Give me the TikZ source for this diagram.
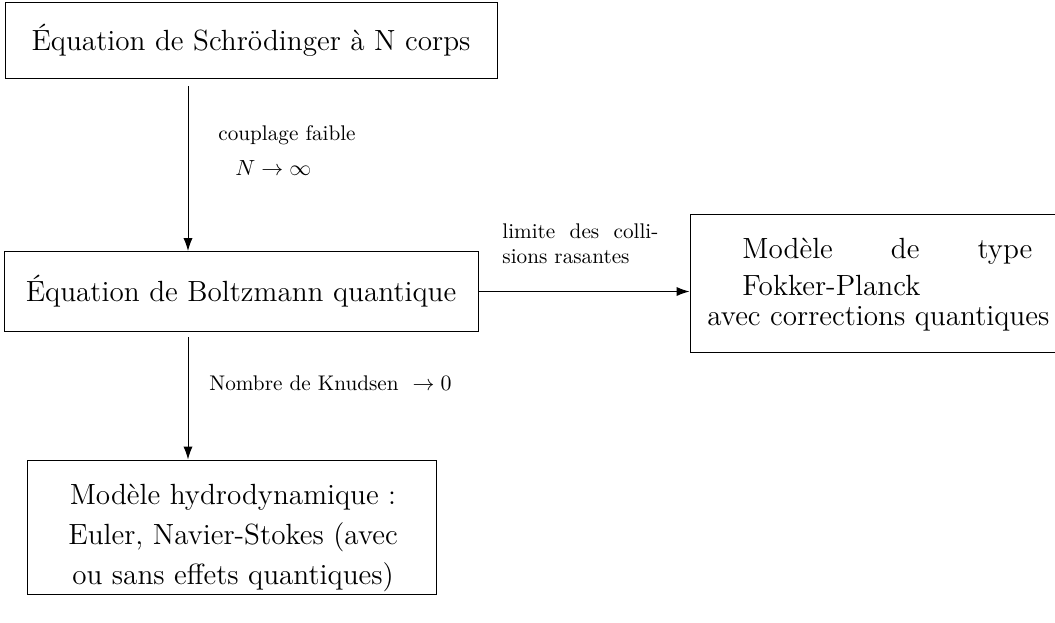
\documentclass[tikz,border=0pt]{standalone}
\usepackage{fontspec}
\usetikzlibrary{arrows.meta}
\begin{document}
\begin{tikzpicture}[x=0.5pt,y=-0.5pt,
  box/.style={draw, line width=0.5pt, inner sep=0pt},
  big/.style={font=\fontsize{14.6}{20.2}\selectfont},
  small/.style={font=\fontsize{10.6}{13}\selectfont},
  txt/.style={inner sep=0pt, anchor=base west},
  conn/.style={line width=0.5pt, -{Latex[length=6.5pt,width=4.6pt]}}]
\useasboundingbox (0,0) rectangle (1055,622);
\clip (0,0) rectangle (1055,622);
% boxes
\node[box,big,minimum width=246pt,minimum height=38pt] (sch) at (251,40.5) {Équation de Schrödinger à N corps};
\node[box,big,minimum width=237pt,minimum height=40pt] (bol) at (241,291.5) {Équation de Boltzmann quantique};
\node[box,minimum width=190pt,minimum height=69pt] (fp) at (880,283) {};
\node[box,minimum width=204.5pt,minimum height=67pt] (hyd) at (231.5,527) {};
% box texts
\node[txt,big] (fp1) at (742,258) {\makebox[145pt][s]{Modèle de type}};
\node[txt,big] (fp2) at (742,295) {Fokker-Planck};
\node[txt,big] (fp3) at (707,325) {avec corrections quantiques};
\node[big,align=center,inner sep=0pt] (hydt) at (233,538) {Modèle hydrodynamique :\\Euler, Navier-Stokes (avec\\ou sans effets quantiques)};
% connectors
\coordinate (a1s) at (188,86);
\coordinate (a3s) at (188,337);
\draw[conn] (a1s) -- (a1s |- bol.north);
\draw[conn] (bol.east) -- (bol.east -| fp.west);
\draw[conn] (a3s) -- (a3s |- hyd.north);
% labels
\node[txt,small] (l1) at (218,140) {couplage faible};
\node[txt,small] (l2) at (235,175) {$N \to \infty$};
\node[txt,small] (l3) at (502,238) {\makebox[78pt][s]{limite des colli-}};
\node[txt,small] (l4) at (502,263) {sions rasantes};
\node[txt,small] (l5) at (209,390) {Nombre de Knudsen \ $\to 0$};
\end{tikzpicture}
\end{document}
